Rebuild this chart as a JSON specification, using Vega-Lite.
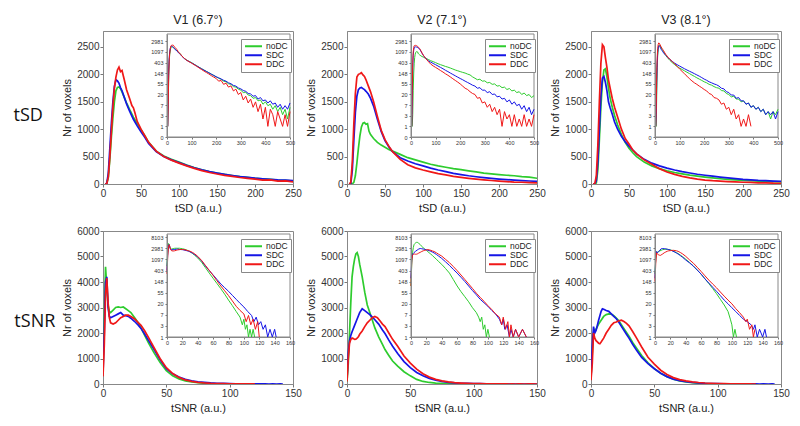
{
"$schema":"https://vega.github.io/schema/vega-lite/v6.json",
"padding":{"left":13,"top":13,"right":5,"bottom":5},
"config":{
 "font":"Liberation Sans",
 "view":{"stroke":"#888","strokeWidth":1},
 "axis":{"grid":false,"domainColor":"#888","tickColor":"#777","labelColor":"#333","titleColor":"#222","labelFont":"Liberation Sans","titleFont":"Liberation Sans","labelFontSize":10,"titleFontSize":11,"titleFontWeight":"normal","tickSize":3,"labelPadding":1,"titlePadding":4,"labelFlush":false,"labelOverlap":false,"format":"d"},
 "title":{"font":"Liberation Sans","fontSize":12.5,"fontWeight":"normal","color":"#222","offset":5,"anchor":"middle","frame":"group"},
 "legend":{"orient":"none","legendX":138,"legendY":8,"title":null,"symbolType":"stroke","symbolStrokeWidth":2,"symbolSize":289,"clipHeight":8.5,"labelFontSize":8.5,"labelFont":"Liberation Sans","labelColor":"#222","strokeColor":"#888","fillColor":"white","padding":3,"rowPadding":0,"labelOffset":3}
},
"datasets":{
"tSD_V1":[
{"s":"noDC","x":3,"y":1},{"s":"noDC","x":5,"y":8},{"s":"noDC","x":7,"y":120},{"s":"noDC","x":9,"y":450},{"s":"noDC","x":11,"y":850},{"s":"noDC","x":13,"y":1200},{"s":"noDC","x":15,"y":1500},{"s":"noDC","x":17,"y":1700},{"s":"noDC","x":19,"y":1760},{"s":"noDC","x":21,"y":1770},{"s":"noDC","x":23,"y":1740},{"s":"noDC","x":25,"y":1680},{"s":"noDC","x":28,"y":1580},{"s":"noDC","x":31,"y":1480},{"s":"noDC","x":35,"y":1360},{"s":"noDC","x":40,"y":1220},{"s":"noDC","x":45,"y":1100},{"s":"noDC","x":50,"y":990},{"s":"noDC","x":55,"y":880},{"s":"noDC","x":60,"y":760},{"s":"noDC","x":70,"y":600},{"s":"noDC","x":80,"y":510},{"s":"noDC","x":90,"y":450},{"s":"noDC","x":100,"y":400},{"s":"noDC","x":110,"y":345},{"s":"noDC","x":120,"y":300},{"s":"noDC","x":130,"y":260},{"s":"noDC","x":140,"y":228},{"s":"noDC","x":150,"y":200},{"s":"noDC","x":160,"y":176},{"s":"noDC","x":170,"y":155},{"s":"noDC","x":180,"y":136},{"s":"noDC","x":190,"y":120},{"s":"noDC","x":200,"y":105},{"s":"noDC","x":210,"y":92},{"s":"noDC","x":220,"y":84},{"s":"noDC","x":230,"y":70},{"s":"noDC","x":240,"y":66},{"s":"noDC","x":250,"y":55},{"s":"noDC","x":260,"y":52},{"s":"noDC","x":270,"y":42},{"s":"noDC","x":280,"y":40},{"s":"noDC","x":290,"y":33},{"s":"noDC","x":300,"y":30},{"s":"noDC","x":310,"y":24},{"s":"noDC","x":320,"y":25},{"s":"noDC","x":330,"y":19},{"s":"noDC","x":340,"y":18},{"s":"noDC","x":350,"y":14},{"s":"noDC","x":360,"y":15},{"s":"noDC","x":370,"y":11},{"s":"noDC","x":380,"y":12},{"s":"noDC","x":390,"y":8},{"s":"noDC","x":400,"y":10},{"s":"noDC","x":410,"y":7},{"s":"noDC","x":420,"y":8},{"s":"noDC","x":430,"y":5},{"s":"noDC","x":440,"y":7},{"s":"noDC","x":450,"y":4},{"s":"noDC","x":460,"y":6},{"s":"noDC","x":470,"y":3},{"s":"noDC","x":480,"y":5},{"s":"noDC","x":490,"y":2},{"s":"noDC","x":500,"y":6},
{"s":"SDC","x":3,"y":1},{"s":"SDC","x":5,"y":15},{"s":"SDC","x":7,"y":200},{"s":"SDC","x":9,"y":650},{"s":"SDC","x":11,"y":1100},{"s":"SDC","x":13,"y":1500},{"s":"SDC","x":15,"y":1780},{"s":"SDC","x":17,"y":1900},{"s":"SDC","x":19,"y":1880},{"s":"SDC","x":21,"y":1840},{"s":"SDC","x":23,"y":1760},{"s":"SDC","x":25,"y":1700},{"s":"SDC","x":28,"y":1580},{"s":"SDC","x":31,"y":1460},{"s":"SDC","x":35,"y":1330},{"s":"SDC","x":40,"y":1180},{"s":"SDC","x":45,"y":1060},{"s":"SDC","x":50,"y":950},{"s":"SDC","x":55,"y":850},{"s":"SDC","x":60,"y":740},{"s":"SDC","x":70,"y":590},{"s":"SDC","x":80,"y":500},{"s":"SDC","x":90,"y":440},{"s":"SDC","x":100,"y":390},{"s":"SDC","x":110,"y":340},{"s":"SDC","x":120,"y":296},{"s":"SDC","x":130,"y":258},{"s":"SDC","x":140,"y":225},{"s":"SDC","x":150,"y":198},{"s":"SDC","x":160,"y":174},{"s":"SDC","x":170,"y":154},{"s":"SDC","x":180,"y":135},{"s":"SDC","x":190,"y":120},{"s":"SDC","x":200,"y":106},{"s":"SDC","x":210,"y":96},{"s":"SDC","x":220,"y":86},{"s":"SDC","x":230,"y":76},{"s":"SDC","x":240,"y":70},{"s":"SDC","x":250,"y":60},{"s":"SDC","x":260,"y":55},{"s":"SDC","x":270,"y":47},{"s":"SDC","x":280,"y":44},{"s":"SDC","x":290,"y":37},{"s":"SDC","x":300,"y":34},{"s":"SDC","x":310,"y":29},{"s":"SDC","x":320,"y":27},{"s":"SDC","x":330,"y":22},{"s":"SDC","x":340,"y":21},{"s":"SDC","x":350,"y":17},{"s":"SDC","x":360,"y":18},{"s":"SDC","x":370,"y":13},{"s":"SDC","x":380,"y":15},{"s":"SDC","x":390,"y":11},{"s":"SDC","x":400,"y":12},{"s":"SDC","x":410,"y":9},{"s":"SDC","x":420,"y":11},{"s":"SDC","x":430,"y":8},{"s":"SDC","x":440,"y":9},{"s":"SDC","x":450,"y":6},{"s":"SDC","x":460,"y":8},{"s":"SDC","x":470,"y":5},{"s":"SDC","x":480,"y":7},{"s":"SDC","x":490,"y":5},{"s":"SDC","x":500,"y":9},
{"s":"DDC","x":3,"y":1},{"s":"DDC","x":5,"y":8},{"s":"DDC","x":7,"y":130},{"s":"DDC","x":9,"y":500},{"s":"DDC","x":11,"y":950},{"s":"DDC","x":13,"y":1400},{"s":"DDC","x":15,"y":1750},{"s":"DDC","x":17,"y":1950},{"s":"DDC","x":19,"y":2080},{"s":"DDC","x":21,"y":2130},{"s":"DDC","x":23,"y":2050},{"s":"DDC","x":25,"y":2070},{"s":"DDC","x":28,"y":1900},{"s":"DDC","x":31,"y":1720},{"s":"DDC","x":35,"y":1560},{"s":"DDC","x":38,"y":1430},{"s":"DDC","x":40,"y":1390},{"s":"DDC","x":42,"y":1300},{"s":"DDC","x":45,"y":1140},{"s":"DDC","x":50,"y":1000},{"s":"DDC","x":55,"y":880},{"s":"DDC","x":60,"y":760},{"s":"DDC","x":70,"y":600},{"s":"DDC","x":80,"y":500},{"s":"DDC","x":90,"y":435},{"s":"DDC","x":100,"y":380},{"s":"DDC","x":110,"y":330},{"s":"DDC","x":120,"y":285},{"s":"DDC","x":130,"y":245},{"s":"DDC","x":140,"y":210},{"s":"DDC","x":150,"y":182},{"s":"DDC","x":160,"y":158},{"s":"DDC","x":170,"y":138},{"s":"DDC","x":180,"y":118},{"s":"DDC","x":190,"y":103},{"s":"DDC","x":200,"y":90},{"s":"DDC","x":210,"y":70},{"s":"DDC","x":220,"y":75},{"s":"DDC","x":230,"y":52},{"s":"DDC","x":240,"y":58},{"s":"DDC","x":250,"y":40},{"s":"DDC","x":260,"y":45},{"s":"DDC","x":270,"y":28},{"s":"DDC","x":280,"y":33},{"s":"DDC","x":290,"y":20},{"s":"DDC","x":300,"y":24},{"s":"DDC","x":310,"y":12},{"s":"DDC","x":320,"y":17},{"s":"DDC","x":330,"y":9},{"s":"DDC","x":340,"y":13},{"s":"DDC","x":350,"y":6},{"s":"DDC","x":360,"y":10},{"s":"DDC","x":370,"y":4},{"s":"DDC","x":380,"y":8},{"s":"DDC","x":390,"y":2},{"s":"DDC","x":400,"y":6},{"s":"DDC","x":410,"y":1},{"s":"DDC","x":420,"y":5},{"s":"DDC","x":430,"y":3},{"s":"DDC","x":440,"y":1},{"s":"DDC","x":450,"y":4},{"s":"DDC","x":460,"y":2},{"s":"DDC","x":470,"y":1},{"s":"DDC","x":480,"y":3},{"s":"DDC","x":490,"y":1},{"s":"DDC","x":500,"y":4}
],
"tSD_V2":[
{"s":"noDC","x":3,"y":1},{"s":"noDC","x":5,"y":1},{"s":"noDC","x":7,"y":3},{"s":"noDC","x":9,"y":30},{"s":"noDC","x":11,"y":150},{"s":"noDC","x":13,"y":380},{"s":"noDC","x":15,"y":650},{"s":"noDC","x":17,"y":880},{"s":"noDC","x":19,"y":1040},{"s":"noDC","x":21,"y":1110},{"s":"noDC","x":23,"y":1120},{"s":"noDC","x":25,"y":1090},{"s":"noDC","x":27,"y":1100},{"s":"noDC","x":29,"y":960},{"s":"noDC","x":31,"y":900},{"s":"noDC","x":35,"y":830},{"s":"noDC","x":40,"y":760},{"s":"noDC","x":45,"y":710},{"s":"noDC","x":50,"y":670},{"s":"noDC","x":55,"y":630},{"s":"noDC","x":60,"y":600},{"s":"noDC","x":70,"y":540},{"s":"noDC","x":80,"y":480},{"s":"noDC","x":90,"y":440},{"s":"noDC","x":100,"y":400},{"s":"noDC","x":110,"y":360},{"s":"noDC","x":120,"y":330},{"s":"noDC","x":130,"y":305},{"s":"noDC","x":140,"y":280},{"s":"noDC","x":150,"y":262},{"s":"noDC","x":160,"y":240},{"s":"noDC","x":170,"y":220},{"s":"noDC","x":180,"y":200},{"s":"noDC","x":190,"y":186},{"s":"noDC","x":200,"y":172},{"s":"noDC","x":210,"y":160},{"s":"noDC","x":220,"y":150},{"s":"noDC","x":230,"y":136},{"s":"noDC","x":240,"y":126},{"s":"noDC","x":250,"y":105},{"s":"noDC","x":260,"y":92},{"s":"noDC","x":270,"y":80},{"s":"noDC","x":280,"y":84},{"s":"noDC","x":290,"y":70},{"s":"noDC","x":300,"y":72},{"s":"noDC","x":310,"y":60},{"s":"noDC","x":320,"y":62},{"s":"noDC","x":330,"y":52},{"s":"noDC","x":340,"y":54},{"s":"noDC","x":350,"y":44},{"s":"noDC","x":360,"y":46},{"s":"noDC","x":370,"y":38},{"s":"noDC","x":380,"y":40},{"s":"noDC","x":390,"y":32},{"s":"noDC","x":400,"y":35},{"s":"noDC","x":410,"y":28},{"s":"noDC","x":420,"y":30},{"s":"noDC","x":430,"y":24},{"s":"noDC","x":440,"y":26},{"s":"noDC","x":450,"y":20},{"s":"noDC","x":460,"y":23},{"s":"noDC","x":470,"y":18},{"s":"noDC","x":480,"y":20},{"s":"noDC","x":490,"y":15},{"s":"noDC","x":500,"y":18},
{"s":"SDC","x":3,"y":1},{"s":"SDC","x":5,"y":10},{"s":"SDC","x":7,"y":250},{"s":"SDC","x":9,"y":800},{"s":"SDC","x":11,"y":1300},{"s":"SDC","x":13,"y":1600},{"s":"SDC","x":15,"y":1720},{"s":"SDC","x":17,"y":1750},{"s":"SDC","x":19,"y":1760},{"s":"SDC","x":21,"y":1740},{"s":"SDC","x":23,"y":1720},{"s":"SDC","x":25,"y":1690},{"s":"SDC","x":28,"y":1640},{"s":"SDC","x":31,"y":1560},{"s":"SDC","x":35,"y":1420},{"s":"SDC","x":40,"y":1180},{"s":"SDC","x":45,"y":960},{"s":"SDC","x":50,"y":790},{"s":"SDC","x":55,"y":680},{"s":"SDC","x":60,"y":590},{"s":"SDC","x":70,"y":480},{"s":"SDC","x":80,"y":420},{"s":"SDC","x":90,"y":370},{"s":"SDC","x":100,"y":330},{"s":"SDC","x":110,"y":290},{"s":"SDC","x":120,"y":255},{"s":"SDC","x":130,"y":225},{"s":"SDC","x":140,"y":195},{"s":"SDC","x":150,"y":172},{"s":"SDC","x":160,"y":150},{"s":"SDC","x":170,"y":132},{"s":"SDC","x":180,"y":116},{"s":"SDC","x":190,"y":102},{"s":"SDC","x":200,"y":90},{"s":"SDC","x":210,"y":80},{"s":"SDC","x":220,"y":70},{"s":"SDC","x":230,"y":62},{"s":"SDC","x":240,"y":55},{"s":"SDC","x":250,"y":48},{"s":"SDC","x":260,"y":44},{"s":"SDC","x":270,"y":36},{"s":"SDC","x":280,"y":38},{"s":"SDC","x":290,"y":30},{"s":"SDC","x":300,"y":30},{"s":"SDC","x":310,"y":24},{"s":"SDC","x":320,"y":26},{"s":"SDC","x":330,"y":20},{"s":"SDC","x":340,"y":21},{"s":"SDC","x":350,"y":16},{"s":"SDC","x":360,"y":17},{"s":"SDC","x":370,"y":13},{"s":"SDC","x":380,"y":14},{"s":"SDC","x":390,"y":10},{"s":"SDC","x":400,"y":12},{"s":"SDC","x":410,"y":8},{"s":"SDC","x":420,"y":10},{"s":"SDC","x":430,"y":7},{"s":"SDC","x":440,"y":8},{"s":"SDC","x":450,"y":5},{"s":"SDC","x":460,"y":7},{"s":"SDC","x":470,"y":4},{"s":"SDC","x":480,"y":6},{"s":"SDC","x":490,"y":3},{"s":"SDC","x":500,"y":5},
{"s":"DDC","x":3,"y":1},{"s":"DDC","x":5,"y":30},{"s":"DDC","x":7,"y":400},{"s":"DDC","x":9,"y":1100},{"s":"DDC","x":11,"y":1650},{"s":"DDC","x":13,"y":1950},{"s":"DDC","x":15,"y":2000},{"s":"DDC","x":17,"y":2010},{"s":"DDC","x":19,"y":2030},{"s":"DDC","x":21,"y":1990},{"s":"DDC","x":23,"y":1960},{"s":"DDC","x":25,"y":1900},{"s":"DDC","x":28,"y":1790},{"s":"DDC","x":31,"y":1680},{"s":"DDC","x":35,"y":1500},{"s":"DDC","x":40,"y":1230},{"s":"DDC","x":45,"y":980},{"s":"DDC","x":50,"y":810},{"s":"DDC","x":55,"y":690},{"s":"DDC","x":60,"y":590},{"s":"DDC","x":70,"y":450},{"s":"DDC","x":80,"y":350},{"s":"DDC","x":90,"y":295},{"s":"DDC","x":100,"y":255},{"s":"DDC","x":110,"y":222},{"s":"DDC","x":120,"y":190},{"s":"DDC","x":130,"y":165},{"s":"DDC","x":140,"y":140},{"s":"DDC","x":150,"y":122},{"s":"DDC","x":160,"y":104},{"s":"DDC","x":170,"y":88},{"s":"DDC","x":180,"y":75},{"s":"DDC","x":190,"y":64},{"s":"DDC","x":200,"y":54},{"s":"DDC","x":210,"y":44},{"s":"DDC","x":220,"y":36},{"s":"DDC","x":230,"y":32},{"s":"DDC","x":240,"y":26},{"s":"DDC","x":250,"y":22},{"s":"DDC","x":260,"y":20},{"s":"DDC","x":270,"y":14},{"s":"DDC","x":280,"y":15},{"s":"DDC","x":290,"y":9},{"s":"DDC","x":300,"y":10},{"s":"DDC","x":310,"y":6},{"s":"DDC","x":320,"y":8},{"s":"DDC","x":330,"y":4},{"s":"DDC","x":340,"y":6},{"s":"DDC","x":350,"y":3},{"s":"DDC","x":360,"y":5},{"s":"DDC","x":370,"y":1},{"s":"DDC","x":380,"y":4},{"s":"DDC","x":390,"y":2},{"s":"DDC","x":400,"y":3},{"s":"DDC","x":410,"y":1},{"s":"DDC","x":420,"y":3},{"s":"DDC","x":430,"y":1},{"s":"DDC","x":440,"y":2},{"s":"DDC","x":450,"y":1},{"s":"DDC","x":460,"y":3},{"s":"DDC","x":470,"y":1},{"s":"DDC","x":480,"y":2},{"s":"DDC","x":490,"y":1},{"s":"DDC","x":500,"y":3}
],
"tSD_V3":[
{"s":"noDC","x":3,"y":1},{"s":"noDC","x":5,"y":1},{"s":"noDC","x":7,"y":20},{"s":"noDC","x":9,"y":250},{"s":"noDC","x":11,"y":800},{"s":"noDC","x":13,"y":1400},{"s":"noDC","x":15,"y":1850},{"s":"noDC","x":17,"y":2080},{"s":"noDC","x":19,"y":2100},{"s":"noDC","x":21,"y":1950},{"s":"noDC","x":23,"y":1750},{"s":"noDC","x":25,"y":1580},{"s":"noDC","x":28,"y":1400},{"s":"noDC","x":31,"y":1250},{"s":"noDC","x":35,"y":1080},{"s":"noDC","x":40,"y":900},{"s":"noDC","x":45,"y":760},{"s":"noDC","x":50,"y":650},{"s":"noDC","x":55,"y":570},{"s":"noDC","x":60,"y":500},{"s":"noDC","x":70,"y":400},{"s":"noDC","x":80,"y":330},{"s":"noDC","x":90,"y":280},{"s":"noDC","x":100,"y":240},{"s":"noDC","x":110,"y":210},{"s":"noDC","x":120,"y":185},{"s":"noDC","x":130,"y":162},{"s":"noDC","x":140,"y":143},{"s":"noDC","x":150,"y":125},{"s":"noDC","x":160,"y":110},{"s":"noDC","x":170,"y":96},{"s":"noDC","x":180,"y":85},{"s":"noDC","x":190,"y":75},{"s":"noDC","x":200,"y":66},{"s":"noDC","x":210,"y":60},{"s":"noDC","x":220,"y":52},{"s":"noDC","x":230,"y":48},{"s":"noDC","x":240,"y":42},{"s":"noDC","x":250,"y":38},{"s":"noDC","x":260,"y":36},{"s":"noDC","x":270,"y":29},{"s":"noDC","x":280,"y":28},{"s":"noDC","x":290,"y":22},{"s":"noDC","x":300,"y":20},{"s":"noDC","x":310,"y":16},{"s":"noDC","x":320,"y":17},{"s":"noDC","x":330,"y":13},{"s":"noDC","x":340,"y":13},{"s":"noDC","x":350,"y":10},{"s":"noDC","x":360,"y":11},{"s":"noDC","x":370,"y":8},{"s":"noDC","x":380,"y":9},{"s":"noDC","x":390,"y":6},{"s":"noDC","x":400,"y":7},{"s":"noDC","x":410,"y":5},{"s":"noDC","x":420,"y":6},{"s":"noDC","x":430,"y":4},{"s":"noDC","x":440,"y":5},{"s":"noDC","x":450,"y":3},{"s":"noDC","x":460,"y":4},{"s":"noDC","x":470,"y":2},{"s":"noDC","x":480,"y":4},{"s":"noDC","x":490,"y":3},{"s":"noDC","x":500,"y":5},
{"s":"SDC","x":3,"y":1},{"s":"SDC","x":5,"y":3},{"s":"SDC","x":7,"y":60},{"s":"SDC","x":9,"y":400},{"s":"SDC","x":11,"y":1000},{"s":"SDC","x":13,"y":1600},{"s":"SDC","x":15,"y":1930},{"s":"SDC","x":17,"y":1960},{"s":"SDC","x":19,"y":1850},{"s":"SDC","x":21,"y":1700},{"s":"SDC","x":23,"y":1500},{"s":"SDC","x":25,"y":1400},{"s":"SDC","x":28,"y":1270},{"s":"SDC","x":31,"y":1130},{"s":"SDC","x":35,"y":1000},{"s":"SDC","x":40,"y":870},{"s":"SDC","x":45,"y":770},{"s":"SDC","x":50,"y":690},{"s":"SDC","x":55,"y":620},{"s":"SDC","x":60,"y":550},{"s":"SDC","x":70,"y":450},{"s":"SDC","x":80,"y":380},{"s":"SDC","x":90,"y":330},{"s":"SDC","x":100,"y":290},{"s":"SDC","x":110,"y":255},{"s":"SDC","x":120,"y":225},{"s":"SDC","x":130,"y":200},{"s":"SDC","x":140,"y":178},{"s":"SDC","x":150,"y":160},{"s":"SDC","x":160,"y":142},{"s":"SDC","x":170,"y":126},{"s":"SDC","x":180,"y":112},{"s":"SDC","x":190,"y":98},{"s":"SDC","x":200,"y":85},{"s":"SDC","x":210,"y":76},{"s":"SDC","x":220,"y":66},{"s":"SDC","x":230,"y":60},{"s":"SDC","x":240,"y":54},{"s":"SDC","x":250,"y":50},{"s":"SDC","x":260,"y":44},{"s":"SDC","x":270,"y":36},{"s":"SDC","x":280,"y":34},{"s":"SDC","x":290,"y":26},{"s":"SDC","x":300,"y":24},{"s":"SDC","x":310,"y":19},{"s":"SDC","x":320,"y":19},{"s":"SDC","x":330,"y":14},{"s":"SDC","x":340,"y":15},{"s":"SDC","x":350,"y":11},{"s":"SDC","x":360,"y":11},{"s":"SDC","x":370,"y":8},{"s":"SDC","x":380,"y":9},{"s":"SDC","x":390,"y":6},{"s":"SDC","x":400,"y":7},{"s":"SDC","x":410,"y":5},{"s":"SDC","x":420,"y":6},{"s":"SDC","x":430,"y":4},{"s":"SDC","x":440,"y":5},{"s":"SDC","x":450,"y":3},{"s":"SDC","x":460,"y":4},{"s":"SDC","x":470,"y":3},{"s":"SDC","x":480,"y":4},{"s":"SDC","x":490,"y":2},{"s":"SDC","x":500,"y":4},
{"s":"DDC","x":3,"y":1},{"s":"DDC","x":5,"y":5},{"s":"DDC","x":7,"y":150},{"s":"DDC","x":9,"y":700},{"s":"DDC","x":11,"y":1500},{"s":"DDC","x":13,"y":2200},{"s":"DDC","x":15,"y":2540},{"s":"DDC","x":17,"y":2500},{"s":"DDC","x":19,"y":2300},{"s":"DDC","x":21,"y":2120},{"s":"DDC","x":23,"y":1900},{"s":"DDC","x":25,"y":1760},{"s":"DDC","x":28,"y":1560},{"s":"DDC","x":31,"y":1400},{"s":"DDC","x":35,"y":1220},{"s":"DDC","x":40,"y":1000},{"s":"DDC","x":45,"y":830},{"s":"DDC","x":50,"y":730},{"s":"DDC","x":55,"y":620},{"s":"DDC","x":60,"y":550},{"s":"DDC","x":70,"y":440},{"s":"DDC","x":80,"y":360},{"s":"DDC","x":90,"y":280},{"s":"DDC","x":100,"y":220},{"s":"DDC","x":110,"y":175},{"s":"DDC","x":120,"y":140},{"s":"DDC","x":130,"y":112},{"s":"DDC","x":140,"y":88},{"s":"DDC","x":150,"y":72},{"s":"DDC","x":160,"y":60},{"s":"DDC","x":170,"y":52},{"s":"DDC","x":180,"y":44},{"s":"DDC","x":190,"y":38},{"s":"DDC","x":200,"y":32},{"s":"DDC","x":210,"y":28},{"s":"DDC","x":220,"y":22},{"s":"DDC","x":230,"y":20},{"s":"DDC","x":240,"y":15},{"s":"DDC","x":250,"y":14},{"s":"DDC","x":260,"y":12},{"s":"DDC","x":270,"y":8},{"s":"DDC","x":280,"y":9},{"s":"DDC","x":290,"y":5},{"s":"DDC","x":300,"y":6},{"s":"DDC","x":310,"y":3},{"s":"DDC","x":320,"y":5},{"s":"DDC","x":330,"y":2},{"s":"DDC","x":340,"y":3},{"s":"DDC","x":350,"y":1},{"s":"DDC","x":360,"y":2},{"s":"DDC","x":370,"y":1},{"s":"DDC","x":380,"y":3},{"s":"DDC","x":390,"y":1}
],
"tSNR_V1":[
{"s":"noDC","x":0,"y":600},{"s":"noDC","x":1,"y":2500},{"s":"noDC","x":2,"y":4600},{"s":"noDC","x":3,"y":3800},{"s":"noDC","x":4,"y":3100},{"s":"noDC","x":5,"y":2850},{"s":"noDC","x":6,"y":2800},{"s":"noDC","x":8,"y":2900},{"s":"noDC","x":10,"y":3000},{"s":"noDC","x":12,"y":3020},{"s":"noDC","x":14,"y":3000},{"s":"noDC","x":16,"y":3020},{"s":"noDC","x":18,"y":2950},{"s":"noDC","x":20,"y":2880},{"s":"noDC","x":22,"y":2800},{"s":"noDC","x":25,"y":2600},{"s":"noDC","x":28,"y":2380},{"s":"noDC","x":30,"y":2200},{"s":"noDC","x":33,"y":1900},{"s":"noDC","x":36,"y":1600},{"s":"noDC","x":40,"y":1250},{"s":"noDC","x":45,"y":850},{"s":"noDC","x":50,"y":520},{"s":"noDC","x":55,"y":320},{"s":"noDC","x":60,"y":200},{"s":"noDC","x":65,"y":125},{"s":"noDC","x":70,"y":78},{"s":"noDC","x":75,"y":48},{"s":"noDC","x":80,"y":28},{"s":"noDC","x":85,"y":17},{"s":"noDC","x":90,"y":10},{"s":"noDC","x":95,"y":6},{"s":"noDC","x":98,"y":3},{"s":"noDC","x":100,"y":5},{"s":"noDC","x":102,"y":2},{"s":"noDC","x":104,"y":3},{"s":"noDC","x":106,"y":1},{"s":"noDC","x":108,"y":2},{"s":"noDC","x":110,"y":1},{"s":"noDC","x":112,"y":2},{"s":"noDC","x":114,"y":1},
{"s":"SDC","x":0,"y":400},{"s":"SDC","x":1,"y":2000},{"s":"SDC","x":2,"y":4000},{"s":"SDC","x":3,"y":4200},{"s":"SDC","x":4,"y":3000},{"s":"SDC","x":5,"y":2650},{"s":"SDC","x":6,"y":2600},{"s":"SDC","x":8,"y":2650},{"s":"SDC","x":10,"y":2700},{"s":"SDC","x":12,"y":2750},{"s":"SDC","x":14,"y":2800},{"s":"SDC","x":16,"y":2700},{"s":"SDC","x":18,"y":2680},{"s":"SDC","x":20,"y":2650},{"s":"SDC","x":22,"y":2580},{"s":"SDC","x":25,"y":2450},{"s":"SDC","x":28,"y":2300},{"s":"SDC","x":30,"y":2180},{"s":"SDC","x":33,"y":1950},{"s":"SDC","x":36,"y":1700},{"s":"SDC","x":40,"y":1380},{"s":"SDC","x":45,"y":960},{"s":"SDC","x":50,"y":600},{"s":"SDC","x":55,"y":400},{"s":"SDC","x":60,"y":270},{"s":"SDC","x":65,"y":180},{"s":"SDC","x":70,"y":120},{"s":"SDC","x":75,"y":86},{"s":"SDC","x":80,"y":62},{"s":"SDC","x":85,"y":43},{"s":"SDC","x":90,"y":30},{"s":"SDC","x":95,"y":21},{"s":"SDC","x":100,"y":15},{"s":"SDC","x":105,"y":10},{"s":"SDC","x":110,"y":7},{"s":"SDC","x":113,"y":4},{"s":"SDC","x":116,"y":6},{"s":"SDC","x":119,"y":3},{"s":"SDC","x":122,"y":4},{"s":"SDC","x":125,"y":2},{"s":"SDC","x":128,"y":3},{"s":"SDC","x":131,"y":1},{"s":"SDC","x":134,"y":2},{"s":"SDC","x":137,"y":1},{"s":"SDC","x":140,"y":2},{"s":"SDC","x":142,"y":1},
{"s":"DDC","x":0,"y":300},{"s":"DDC","x":1,"y":1500},{"s":"DDC","x":2,"y":3500},{"s":"DDC","x":3,"y":4150},{"s":"DDC","x":4,"y":3200},{"s":"DDC","x":5,"y":2600},{"s":"DDC","x":6,"y":2400},{"s":"DDC","x":8,"y":2350},{"s":"DDC","x":10,"y":2400},{"s":"DDC","x":12,"y":2500},{"s":"DDC","x":14,"y":2600},{"s":"DDC","x":16,"y":2650},{"s":"DDC","x":18,"y":2700},{"s":"DDC","x":20,"y":2700},{"s":"DDC","x":22,"y":2650},{"s":"DDC","x":25,"y":2550},{"s":"DDC","x":28,"y":2400},{"s":"DDC","x":30,"y":2300},{"s":"DDC","x":33,"y":2080},{"s":"DDC","x":36,"y":1820},{"s":"DDC","x":40,"y":1450},{"s":"DDC","x":45,"y":1000},{"s":"DDC","x":50,"y":640},{"s":"DDC","x":55,"y":410},{"s":"DDC","x":60,"y":260},{"s":"DDC","x":65,"y":160},{"s":"DDC","x":70,"y":100},{"s":"DDC","x":75,"y":65},{"s":"DDC","x":80,"y":42},{"s":"DDC","x":85,"y":26},{"s":"DDC","x":90,"y":16},{"s":"DDC","x":95,"y":11},{"s":"DDC","x":100,"y":8},{"s":"DDC","x":103,"y":4},{"s":"DDC","x":106,"y":7},{"s":"DDC","x":109,"y":3},{"s":"DDC","x":112,"y":5},{"s":"DDC","x":115,"y":2},{"s":"DDC","x":118,"y":4},{"s":"DDC","x":120,"y":1}
],
"tSNR_V2":[
{"s":"noDC","x":0,"y":100},{"s":"noDC","x":1,"y":800},{"s":"noDC","x":2,"y":2000},{"s":"noDC","x":3,"y":3200},{"s":"noDC","x":4,"y":4200},{"s":"noDC","x":5,"y":4600},{"s":"noDC","x":6,"y":4900},{"s":"noDC","x":7,"y":5100},{"s":"noDC","x":8,"y":5150},{"s":"noDC","x":9,"y":5000},{"s":"noDC","x":10,"y":4700},{"s":"noDC","x":12,"y":4200},{"s":"noDC","x":14,"y":3600},{"s":"noDC","x":16,"y":3100},{"s":"noDC","x":18,"y":2800},{"s":"noDC","x":20,"y":2500},{"s":"noDC","x":22,"y":2200},{"s":"noDC","x":25,"y":1850},{"s":"noDC","x":28,"y":1550},{"s":"noDC","x":30,"y":1350},{"s":"noDC","x":33,"y":1120},{"s":"noDC","x":36,"y":900},{"s":"noDC","x":40,"y":700},{"s":"noDC","x":45,"y":480},{"s":"noDC","x":50,"y":320},{"s":"noDC","x":55,"y":180},{"s":"noDC","x":60,"y":100},{"s":"noDC","x":65,"y":60},{"s":"noDC","x":70,"y":38},{"s":"noDC","x":75,"y":24},{"s":"noDC","x":80,"y":14},{"s":"noDC","x":85,"y":9},{"s":"noDC","x":88,"y":6},{"s":"noDC","x":90,"y":4},{"s":"noDC","x":92,"y":6},{"s":"noDC","x":94,"y":2},{"s":"noDC","x":96,"y":3},{"s":"noDC","x":98,"y":1},{"s":"noDC","x":100,"y":2},{"s":"noDC","x":102,"y":1},
{"s":"SDC","x":0,"y":200},{"s":"SDC","x":1,"y":1200},{"s":"SDC","x":2,"y":1700},{"s":"SDC","x":3,"y":1900},{"s":"SDC","x":4,"y":2050},{"s":"SDC","x":6,"y":2300},{"s":"SDC","x":8,"y":2550},{"s":"SDC","x":10,"y":2800},{"s":"SDC","x":12,"y":2950},{"s":"SDC","x":14,"y":2880},{"s":"SDC","x":16,"y":2800},{"s":"SDC","x":18,"y":2720},{"s":"SDC","x":20,"y":2620},{"s":"SDC","x":22,"y":2520},{"s":"SDC","x":25,"y":2350},{"s":"SDC","x":28,"y":2120},{"s":"SDC","x":30,"y":1980},{"s":"SDC","x":33,"y":1720},{"s":"SDC","x":36,"y":1480},{"s":"SDC","x":40,"y":1200},{"s":"SDC","x":45,"y":880},{"s":"SDC","x":50,"y":640},{"s":"SDC","x":55,"y":450},{"s":"SDC","x":60,"y":320},{"s":"SDC","x":65,"y":220},{"s":"SDC","x":70,"y":150},{"s":"SDC","x":75,"y":100},{"s":"SDC","x":80,"y":66},{"s":"SDC","x":85,"y":45},{"s":"SDC","x":90,"y":30},{"s":"SDC","x":95,"y":22},{"s":"SDC","x":100,"y":16},{"s":"SDC","x":105,"y":11},{"s":"SDC","x":110,"y":8},{"s":"SDC","x":115,"y":5},{"s":"SDC","x":118,"y":3},{"s":"SDC","x":120,"y":5},{"s":"SDC","x":122,"y":2},{"s":"SDC","x":125,"y":3},{"s":"SDC","x":128,"y":1},{"s":"SDC","x":130,"y":2},{"s":"SDC","x":133,"y":1},{"s":"SDC","x":136,"y":2},{"s":"SDC","x":140,"y":1},{"s":"SDC","x":145,"y":2},{"s":"SDC","x":150,"y":1},
{"s":"DDC","x":0,"y":100},{"s":"DDC","x":1,"y":1000},{"s":"DDC","x":2,"y":1600},{"s":"DDC","x":3,"y":1750},{"s":"DDC","x":4,"y":1800},{"s":"DDC","x":5,"y":1780},{"s":"DDC","x":6,"y":1750},{"s":"DDC","x":7,"y":1760},{"s":"DDC","x":8,"y":1800},{"s":"DDC","x":9,"y":1850},{"s":"DDC","x":10,"y":1950},{"s":"DDC","x":12,"y":2080},{"s":"DDC","x":14,"y":2250},{"s":"DDC","x":16,"y":2400},{"s":"DDC","x":18,"y":2500},{"s":"DDC","x":20,"y":2600},{"s":"DDC","x":22,"y":2650},{"s":"DDC","x":24,"y":2600},{"s":"DDC","x":26,"y":2480},{"s":"DDC","x":28,"y":2350},{"s":"DDC","x":30,"y":2250},{"s":"DDC","x":33,"y":2000},{"s":"DDC","x":36,"y":1750},{"s":"DDC","x":40,"y":1480},{"s":"DDC","x":45,"y":1100},{"s":"DDC","x":50,"y":820},{"s":"DDC","x":55,"y":580},{"s":"DDC","x":60,"y":400},{"s":"DDC","x":65,"y":270},{"s":"DDC","x":70,"y":180},{"s":"DDC","x":75,"y":120},{"s":"DDC","x":80,"y":80},{"s":"DDC","x":85,"y":52},{"s":"DDC","x":90,"y":36},{"s":"DDC","x":95,"y":25},{"s":"DDC","x":100,"y":17},{"s":"DDC","x":105,"y":12},{"s":"DDC","x":110,"y":8},{"s":"DDC","x":115,"y":6},{"s":"DDC","x":118,"y":3},{"s":"DDC","x":120,"y":6},{"s":"DDC","x":123,"y":2},{"s":"DDC","x":126,"y":4},{"s":"DDC","x":128,"y":1},{"s":"DDC","x":130,"y":3},{"s":"DDC","x":133,"y":1},{"s":"DDC","x":136,"y":2},{"s":"DDC","x":140,"y":1},{"s":"DDC","x":145,"y":2},{"s":"DDC","x":150,"y":1}
],
"tSNR_V3":[
{"s":"noDC","x":0,"y":300},{"s":"noDC","x":1,"y":1200},{"s":"noDC","x":2,"y":2000},{"s":"noDC","x":3,"y":2100},{"s":"noDC","x":4,"y":2150},{"s":"noDC","x":5,"y":2250},{"s":"noDC","x":6,"y":2350},{"s":"noDC","x":8,"y":2500},{"s":"noDC","x":10,"y":2650},{"s":"noDC","x":12,"y":2720},{"s":"noDC","x":14,"y":2750},{"s":"noDC","x":16,"y":2740},{"s":"noDC","x":18,"y":2680},{"s":"noDC","x":20,"y":2580},{"s":"noDC","x":22,"y":2480},{"s":"noDC","x":25,"y":2250},{"s":"noDC","x":28,"y":2020},{"s":"noDC","x":30,"y":1870},{"s":"noDC","x":33,"y":1620},{"s":"noDC","x":36,"y":1400},{"s":"noDC","x":40,"y":1120},{"s":"noDC","x":45,"y":830},{"s":"noDC","x":50,"y":600},{"s":"noDC","x":55,"y":420},{"s":"noDC","x":60,"y":290},{"s":"noDC","x":65,"y":190},{"s":"noDC","x":70,"y":125},{"s":"noDC","x":75,"y":80},{"s":"noDC","x":80,"y":50},{"s":"noDC","x":85,"y":30},{"s":"noDC","x":90,"y":18},{"s":"noDC","x":95,"y":10},{"s":"noDC","x":98,"y":5},{"s":"noDC","x":100,"y":3},{"s":"noDC","x":102,"y":1},{"s":"noDC","x":104,"y":2},{"s":"noDC","x":106,"y":1},
{"s":"SDC","x":0,"y":200},{"s":"SDC","x":1,"y":1500},{"s":"SDC","x":2,"y":2250},{"s":"SDC","x":3,"y":2000},{"s":"SDC","x":4,"y":2100},{"s":"SDC","x":5,"y":2300},{"s":"SDC","x":6,"y":2500},{"s":"SDC","x":8,"y":2850},{"s":"SDC","x":9,"y":2950},{"s":"SDC","x":10,"y":2930},{"s":"SDC","x":12,"y":2880},{"s":"SDC","x":14,"y":2850},{"s":"SDC","x":16,"y":2750},{"s":"SDC","x":18,"y":2650},{"s":"SDC","x":20,"y":2560},{"s":"SDC","x":22,"y":2420},{"s":"SDC","x":25,"y":2180},{"s":"SDC","x":28,"y":1950},{"s":"SDC","x":30,"y":1800},{"s":"SDC","x":33,"y":1550},{"s":"SDC","x":36,"y":1320},{"s":"SDC","x":40,"y":1040},{"s":"SDC","x":45,"y":800},{"s":"SDC","x":50,"y":600},{"s":"SDC","x":55,"y":420},{"s":"SDC","x":60,"y":290},{"s":"SDC","x":65,"y":190},{"s":"SDC","x":70,"y":130},{"s":"SDC","x":75,"y":90},{"s":"SDC","x":80,"y":62},{"s":"SDC","x":85,"y":42},{"s":"SDC","x":90,"y":28},{"s":"SDC","x":95,"y":20},{"s":"SDC","x":100,"y":14},{"s":"SDC","x":105,"y":10},{"s":"SDC","x":110,"y":7},{"s":"SDC","x":115,"y":5},{"s":"SDC","x":120,"y":4},{"s":"SDC","x":125,"y":3},{"s":"SDC","x":128,"y":2},{"s":"SDC","x":130,"y":3},{"s":"SDC","x":133,"y":1},{"s":"SDC","x":136,"y":2},{"s":"SDC","x":140,"y":1},{"s":"SDC","x":143,"y":2},{"s":"SDC","x":145,"y":1},
{"s":"DDC","x":0,"y":150},{"s":"DDC","x":1,"y":800},{"s":"DDC","x":2,"y":2000},{"s":"DDC","x":3,"y":1800},{"s":"DDC","x":4,"y":1700},{"s":"DDC","x":5,"y":1650},{"s":"DDC","x":6,"y":1600},{"s":"DDC","x":7,"y":1580},{"s":"DDC","x":8,"y":1650},{"s":"DDC","x":10,"y":1800},{"s":"DDC","x":12,"y":2000},{"s":"DDC","x":14,"y":2150},{"s":"DDC","x":16,"y":2300},{"s":"DDC","x":18,"y":2400},{"s":"DDC","x":20,"y":2430},{"s":"DDC","x":22,"y":2480},{"s":"DDC","x":24,"y":2500},{"s":"DDC","x":26,"y":2450},{"s":"DDC","x":28,"y":2380},{"s":"DDC","x":30,"y":2280},{"s":"DDC","x":33,"y":2050},{"s":"DDC","x":36,"y":1800},{"s":"DDC","x":40,"y":1450},{"s":"DDC","x":45,"y":1050},{"s":"DDC","x":50,"y":780},{"s":"DDC","x":55,"y":540},{"s":"DDC","x":60,"y":370},{"s":"DDC","x":65,"y":250},{"s":"DDC","x":70,"y":170},{"s":"DDC","x":75,"y":120},{"s":"DDC","x":80,"y":85},{"s":"DDC","x":85,"y":58},{"s":"DDC","x":90,"y":40},{"s":"DDC","x":95,"y":28},{"s":"DDC","x":100,"y":20},{"s":"DDC","x":105,"y":13},{"s":"DDC","x":110,"y":9},{"s":"DDC","x":115,"y":6},{"s":"DDC","x":118,"y":4},{"s":"DDC","x":120,"y":5},{"s":"DDC","x":123,"y":2},{"s":"DDC","x":126,"y":3},{"s":"DDC","x":128,"y":1},{"s":"DDC","x":130,"y":2}
]
},
"vconcat":[
{"hconcat":[
 {"width":190,"height":153,"title":"V1 (6.7°)","layer":[
  {"data":{"name":"tSD_V1"},"mark":{"type":"line","clip":true,"strokeWidth":1.7},"encoding":{
   "x":{"field":"x","type":"quantitative","scale":{"domain":[0,250],"nice":false},"axis":{"title":"tSD (a.u.)","values":[0,50,100,150,200,250],"tickCount":20}},
   "y":{"field":"y","type":"quantitative","scale":{"domain":[0,2790],"nice":false},"axis":{"title":"Nr of voxels","values":[0,500,1000,1500,2000,2500],"tickCount":20}},
   "color":{"field":"s","type":"nominal","scale":{"domain":["noDC","SDC","DDC"],"range":["#2ecc2e","#1515e6","#f01818"]},"legend":{"title":null}}}},
  {"layer":[
   {"data":{"values":[{}]},"mark":{"type":"rect","fill":"white","stroke":"#888","strokeWidth":1},"encoding":{
    "x":{"datum":0,"type":"quantitative","scale":{"domain":[0,500],"range":[64,187],"nice":false},"axis":{"orient":"bottom","offset":-47,"zindex":1,"values":[0,100,200,300,400,500],"tickCount":20,"title":null,"labelFontSize":5.5,"tickSize":2,"labelPadding":1,"labelOverlap":false}},
    "x2":{"datum":500},
    "y":{"datum":0.3679,"type":"quantitative","scale":{"type":"log","base":2.718281828459045,"domain":[0.3679,5900],"range":[106,3],"nice":false},"axis":{"orient":"left","offset":-64,"zindex":1,"values":[0.3679,1,2.7183,7.3891,20.0855,54.5982,148.4132,403.4288,1096.6332,2980.958],"tickCount":20,"labelExpr":"datum.value < 0.5 ? '0' : format(datum.value, '.0f')","title":null,"labelFontSize":5.5,"tickSize":2,"labelPadding":2,"labelOverlap":false}},
    "y2":{"datum":5900}}},
   {"data":{"name":"tSD_V1"},"mark":{"type":"line","strokeWidth":1},"encoding":{
    "x":{"field":"x","type":"quantitative"},
    "y":{"field":"y","type":"quantitative"},
    "color":{"field":"s","type":"nominal","scale":{"domain":["noDC","SDC","DDC"],"range":["#2ecc2e","#1515e6","#f01818"]},"legend":{"title":null}}}}
  ]}
 ],"resolve":{"scale":{"x":"independent","y":"independent"}}},
 {"width":190,"height":153,"title":"V2 (7.1°)","layer":[
  {"data":{"name":"tSD_V2"},"mark":{"type":"line","clip":true,"strokeWidth":1.7},"encoding":{
   "x":{"field":"x","type":"quantitative","scale":{"domain":[0,250],"nice":false},"axis":{"title":"tSD (a.u.)","values":[0,50,100,150,200,250],"tickCount":20}},
   "y":{"field":"y","type":"quantitative","scale":{"domain":[0,2790],"nice":false},"axis":{"title":"Nr of voxels","values":[0,500,1000,1500,2000,2500],"tickCount":20}},
   "color":{"field":"s","type":"nominal","scale":{"domain":["noDC","SDC","DDC"],"range":["#2ecc2e","#1515e6","#f01818"]},"legend":{"title":null}}}},
  {"layer":[
   {"data":{"values":[{}]},"mark":{"type":"rect","fill":"white","stroke":"#888","strokeWidth":1},"encoding":{
    "x":{"datum":0,"type":"quantitative","scale":{"domain":[0,500],"range":[64,187],"nice":false},"axis":{"orient":"bottom","offset":-47,"zindex":1,"values":[0,100,200,300,400,500],"tickCount":20,"title":null,"labelFontSize":5.5,"tickSize":2,"labelPadding":1,"labelOverlap":false}},
    "x2":{"datum":500},
    "y":{"datum":0.3679,"type":"quantitative","scale":{"type":"log","base":2.718281828459045,"domain":[0.3679,5900],"range":[106,3],"nice":false},"axis":{"orient":"left","offset":-64,"zindex":1,"values":[0.3679,1,2.7183,7.3891,20.0855,54.5982,148.4132,403.4288,1096.6332,2980.958],"tickCount":20,"labelExpr":"datum.value < 0.5 ? '0' : format(datum.value, '.0f')","title":null,"labelFontSize":5.5,"tickSize":2,"labelPadding":2,"labelOverlap":false}},
    "y2":{"datum":5900}}},
   {"data":{"name":"tSD_V2"},"mark":{"type":"line","strokeWidth":1},"encoding":{
    "x":{"field":"x","type":"quantitative"},
    "y":{"field":"y","type":"quantitative"},
    "color":{"field":"s","type":"nominal","scale":{"domain":["noDC","SDC","DDC"],"range":["#2ecc2e","#1515e6","#f01818"]},"legend":{"title":null}}}}
  ]}
 ],"resolve":{"scale":{"x":"independent","y":"independent"}}},
 {"width":190,"height":153,"title":"V3 (8.1°)","layer":[
  {"data":{"name":"tSD_V3"},"mark":{"type":"line","clip":true,"strokeWidth":1.7},"encoding":{
   "x":{"field":"x","type":"quantitative","scale":{"domain":[0,250],"nice":false},"axis":{"title":"tSD (a.u.)","values":[0,50,100,150,200,250],"tickCount":20}},
   "y":{"field":"y","type":"quantitative","scale":{"domain":[0,2790],"nice":false},"axis":{"title":"Nr of voxels","values":[0,500,1000,1500,2000,2500],"tickCount":20}},
   "color":{"field":"s","type":"nominal","scale":{"domain":["noDC","SDC","DDC"],"range":["#2ecc2e","#1515e6","#f01818"]},"legend":{"title":null}}}},
  {"layer":[
   {"data":{"values":[{}]},"mark":{"type":"rect","fill":"white","stroke":"#888","strokeWidth":1},"encoding":{
    "x":{"datum":0,"type":"quantitative","scale":{"domain":[0,500],"range":[64,187],"nice":false},"axis":{"orient":"bottom","offset":-47,"zindex":1,"values":[0,100,200,300,400,500],"tickCount":20,"title":null,"labelFontSize":5.5,"tickSize":2,"labelPadding":1,"labelOverlap":false}},
    "x2":{"datum":500},
    "y":{"datum":0.3679,"type":"quantitative","scale":{"type":"log","base":2.718281828459045,"domain":[0.3679,5900],"range":[106,3],"nice":false},"axis":{"orient":"left","offset":-64,"zindex":1,"values":[0.3679,1,2.7183,7.3891,20.0855,54.5982,148.4132,403.4288,1096.6332,2980.958],"tickCount":20,"labelExpr":"datum.value < 0.5 ? '0' : format(datum.value, '.0f')","title":null,"labelFontSize":5.5,"tickSize":2,"labelPadding":2,"labelOverlap":false}},
    "y2":{"datum":5900}}},
   {"data":{"name":"tSD_V3"},"mark":{"type":"line","strokeWidth":1},"encoding":{
    "x":{"field":"x","type":"quantitative"},
    "y":{"field":"y","type":"quantitative"},
    "color":{"field":"s","type":"nominal","scale":{"domain":["noDC","SDC","DDC"],"range":["#2ecc2e","#1515e6","#f01818"]},"legend":{"title":null}}}}
  ]}
 ],"resolve":{"scale":{"x":"independent","y":"independent"}}}
],
"spacing":54,"bounds":"flush",
"title":{"text":"tSD","orient":"left","angle":0,"align":"right","baseline":"middle","anchor":"middle","frame":"bounds","font":"Open Sans","fontSize":18,"fontWeight":"normal","offset":-11,"dy":3,"color":"#111"},
"resolve":{"scale":{"color":"independent"},"legend":{"color":"independent"}}},
{"hconcat":[
 {"width":190,"height":153,"layer":[
  {"data":{"name":"tSNR_V1"},"mark":{"type":"line","clip":true,"strokeWidth":1.7},"encoding":{
   "x":{"field":"x","type":"quantitative","scale":{"domain":[0,150],"nice":false},"axis":{"title":"tSNR (a.u.)","values":[0,50,100,150],"tickCount":20}},
   "y":{"field":"y","type":"quantitative","scale":{"domain":[0,6000],"nice":false},"axis":{"title":"Nr of voxels","values":[0,1000,2000,3000,4000,5000,6000],"tickCount":20}},
   "color":{"field":"s","type":"nominal","scale":{"domain":["noDC","SDC","DDC"],"range":["#2ecc2e","#1515e6","#f01818"]},"legend":{"title":null}}}},
  {"layer":[
   {"data":{"values":[{}]},"mark":{"type":"rect","fill":"white","stroke":"#888","strokeWidth":1},"encoding":{
    "x":{"datum":0,"type":"quantitative","scale":{"domain":[0,160],"range":[64,187],"nice":false},"axis":{"orient":"bottom","offset":-47,"zindex":1,"values":[0,20,40,60,80,100,120,140,160],"tickCount":20,"title":null,"labelFontSize":5.5,"tickSize":2,"labelPadding":1,"labelOverlap":false}},
    "x2":{"datum":160},
    "y":{"datum":1,"type":"quantitative","scale":{"type":"log","base":2.718281828459045,"domain":[1,10900],"range":[106,3],"nice":false},"axis":{"orient":"left","offset":-64,"zindex":1,"values":[1,2.7183,7.3891,20.0855,54.5982,148.4132,403.4288,1096.6332,2980.958,8103.0839],"tickCount":20,"labelExpr":"format(datum.value, '.0f')","title":null,"labelFontSize":5.5,"tickSize":2,"labelPadding":2,"labelOverlap":false}},
    "y2":{"datum":10900}}},
   {"data":{"name":"tSNR_V1"},"mark":{"type":"line","strokeWidth":1},"encoding":{
    "x":{"field":"x","type":"quantitative"},
    "y":{"field":"y","type":"quantitative"},
    "color":{"field":"s","type":"nominal","scale":{"domain":["noDC","SDC","DDC"],"range":["#2ecc2e","#1515e6","#f01818"]},"legend":{"title":null}}}}
  ]}
 ],"resolve":{"scale":{"x":"independent","y":"independent"}}},
 {"width":190,"height":153,"layer":[
  {"data":{"name":"tSNR_V2"},"mark":{"type":"line","clip":true,"strokeWidth":1.7},"encoding":{
   "x":{"field":"x","type":"quantitative","scale":{"domain":[0,150],"nice":false},"axis":{"title":"tSNR (a.u.)","values":[0,50,100,150],"tickCount":20}},
   "y":{"field":"y","type":"quantitative","scale":{"domain":[0,6000],"nice":false},"axis":{"title":"Nr of voxels","values":[0,1000,2000,3000,4000,5000,6000],"tickCount":20}},
   "color":{"field":"s","type":"nominal","scale":{"domain":["noDC","SDC","DDC"],"range":["#2ecc2e","#1515e6","#f01818"]},"legend":{"title":null}}}},
  {"layer":[
   {"data":{"values":[{}]},"mark":{"type":"rect","fill":"white","stroke":"#888","strokeWidth":1},"encoding":{
    "x":{"datum":0,"type":"quantitative","scale":{"domain":[0,160],"range":[64,187],"nice":false},"axis":{"orient":"bottom","offset":-47,"zindex":1,"values":[0,20,40,60,80,100,120,140,160],"tickCount":20,"title":null,"labelFontSize":5.5,"tickSize":2,"labelPadding":1,"labelOverlap":false}},
    "x2":{"datum":160},
    "y":{"datum":1,"type":"quantitative","scale":{"type":"log","base":2.718281828459045,"domain":[1,10900],"range":[106,3],"nice":false},"axis":{"orient":"left","offset":-64,"zindex":1,"values":[1,2.7183,7.3891,20.0855,54.5982,148.4132,403.4288,1096.6332,2980.958,8103.0839],"tickCount":20,"labelExpr":"format(datum.value, '.0f')","title":null,"labelFontSize":5.5,"tickSize":2,"labelPadding":2,"labelOverlap":false}},
    "y2":{"datum":10900}}},
   {"data":{"name":"tSNR_V2"},"mark":{"type":"line","strokeWidth":1},"encoding":{
    "x":{"field":"x","type":"quantitative"},
    "y":{"field":"y","type":"quantitative"},
    "color":{"field":"s","type":"nominal","scale":{"domain":["noDC","SDC","DDC"],"range":["#2ecc2e","#1515e6","#f01818"]},"legend":{"title":null}}}}
  ]}
 ],"resolve":{"scale":{"x":"independent","y":"independent"}}},
 {"width":190,"height":153,"layer":[
  {"data":{"name":"tSNR_V3"},"mark":{"type":"line","clip":true,"strokeWidth":1.7},"encoding":{
   "x":{"field":"x","type":"quantitative","scale":{"domain":[0,150],"nice":false},"axis":{"title":"tSNR (a.u.)","values":[0,50,100,150],"tickCount":20}},
   "y":{"field":"y","type":"quantitative","scale":{"domain":[0,6000],"nice":false},"axis":{"title":"Nr of voxels","values":[0,1000,2000,3000,4000,5000,6000],"tickCount":20}},
   "color":{"field":"s","type":"nominal","scale":{"domain":["noDC","SDC","DDC"],"range":["#2ecc2e","#1515e6","#f01818"]},"legend":{"title":null}}}},
  {"layer":[
   {"data":{"values":[{}]},"mark":{"type":"rect","fill":"white","stroke":"#888","strokeWidth":1},"encoding":{
    "x":{"datum":0,"type":"quantitative","scale":{"domain":[0,160],"range":[64,187],"nice":false},"axis":{"orient":"bottom","offset":-47,"zindex":1,"values":[0,20,40,60,80,100,120,140,160],"tickCount":20,"title":null,"labelFontSize":5.5,"tickSize":2,"labelPadding":1,"labelOverlap":false}},
    "x2":{"datum":160},
    "y":{"datum":1,"type":"quantitative","scale":{"type":"log","base":2.718281828459045,"domain":[1,10900],"range":[106,3],"nice":false},"axis":{"orient":"left","offset":-64,"zindex":1,"values":[1,2.7183,7.3891,20.0855,54.5982,148.4132,403.4288,1096.6332,2980.958,8103.0839],"tickCount":20,"labelExpr":"format(datum.value, '.0f')","title":null,"labelFontSize":5.5,"tickSize":2,"labelPadding":2,"labelOverlap":false}},
    "y2":{"datum":10900}}},
   {"data":{"name":"tSNR_V3"},"mark":{"type":"line","strokeWidth":1},"encoding":{
    "x":{"field":"x","type":"quantitative"},
    "y":{"field":"y","type":"quantitative"},
    "color":{"field":"s","type":"nominal","scale":{"domain":["noDC","SDC","DDC"],"range":["#2ecc2e","#1515e6","#f01818"]},"legend":{"title":null}}}}
  ]}
 ],"resolve":{"scale":{"x":"independent","y":"independent"}}}
],
"spacing":54,"bounds":"flush",
"title":{"text":"tSNR","orient":"left","angle":0,"align":"right","baseline":"middle","anchor":"middle","frame":"bounds","font":"Open Sans","fontSize":18,"fontWeight":"normal","offset":-35,"dy":2,"color":"#111"},
"resolve":{"scale":{"color":"independent"},"legend":{"color":"independent"}}}
],
"spacing":11,
"bounds":"full",
"resolve":{"scale":{"color":"independent"},"legend":{"color":"independent"}}
}
